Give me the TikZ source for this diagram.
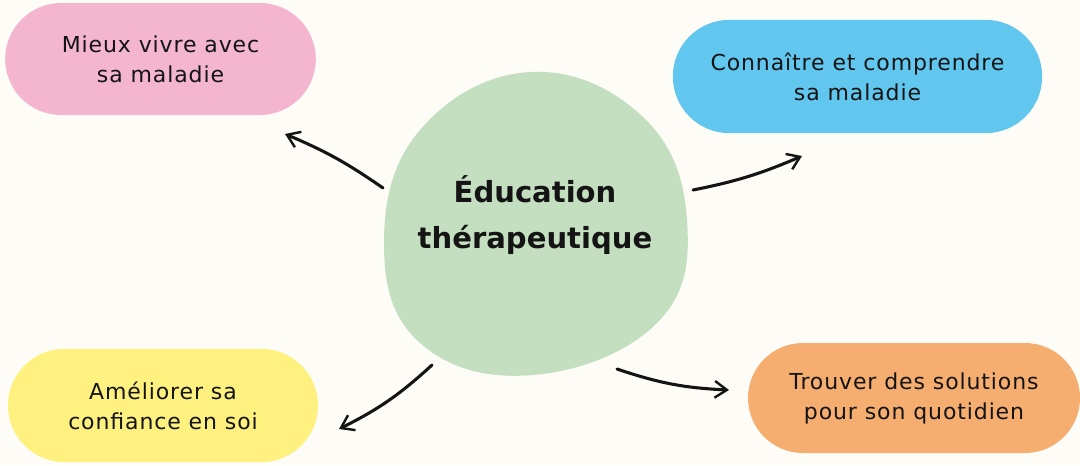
\documentclass[tikz,border=0pt]{standalone}
\usepackage{fontspec}
\setmainfont{DejaVu Sans}[LetterSpace=4]
\newfontfamily\titre{DejaVu Sans}
\usetikzlibrary{positioning, shapes.misc, arrows.meta}
\definecolor{fond}{HTML}{FDFCF6}
\definecolor{rose}{HTML}{F4B6CF}
\definecolor{bleu}{HTML}{62C7EE}
\definecolor{jaune}{HTML}{FEF17F}
\definecolor{orange}{HTML}{F5AE6F}
\definecolor{vert}{HTML}{C4DFC0}
\definecolor{encre}{HTML}{141414}

\begin{document}
\begin{tikzpicture}[x=0.75pt, y=-0.75pt, text=encre,
		pill/.style={rounded rectangle, align=center, inner sep=0pt, font=\fontsize{16.5}{22.5}\selectfont},
		fleche/.style={-{Straight Barb[length=3.2mm, width=4.4mm, line width=1.8pt]}, line width=2.3pt, line cap=round, draw=encre}]
		\fill[fond] (0,0) rectangle (1080,465); \useasboundingbox (0,0) rectangle (1080,465);
		% blob central
		\fill[vert] plot[smooth cycle, tension=0.7] coordinates {(530,72) (643,117) (687,220) (657,323) (533,375) (420,343) (384,243) (420,130)};
		\node[font=\titre\bfseries\fontsize{21.8}{34.5}\selectfont, align=center] (edu) at (535,215) {Éducation\\thérapeutique};
		% boites
		\node[pill, fill=rose, minimum width=233pt, minimum height=84pt] (vivre) at (160.5,59) {Mieux vivre avec\\sa maladie};
		\node[pill, fill=bleu, minimum width=277pt, minimum height=85pt] (connaitre) at (857.5,76.5) {Connaître et comprendre\\sa maladie};
		\node[pill, fill=jaune, minimum width=232.5pt, minimum height=85pt] (confiance) at (163,405.5) {Améliorer sa\\confiance en soi};
		\node[pill, fill=orange, minimum width=249pt, minimum height=82.5pt] (solutions) at (914,398) {Trouver des solutions\\pour son quotidien};
		% fleches
		\coordinate (d1) at (383,188); \coordinate (f1) at (285,134);
		\coordinate (d2) at (693,190); \coordinate (f2) at (802,156);
		\coordinate (d3) at (432,365); \coordinate (f3) at (339,429);
		\coordinate (d4) at (617,369); \coordinate (f4) at (729,390);
		\draw[fleche] (d1) to[bend right=6] (f1);
		\draw[fleche] (d2) to[bend right=6] (f2);
		\draw[fleche] (d3) to[bend left=8] (f3);
		\draw[fleche] (d4) to[bend right=8] (f4);
	\end{tikzpicture}
\end{document}
